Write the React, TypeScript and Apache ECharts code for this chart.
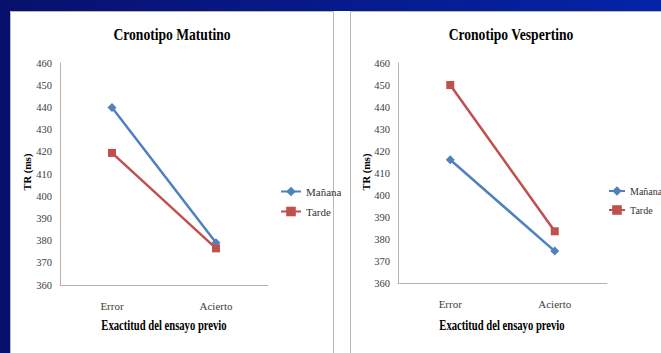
import React, { useEffect, useRef } from "react";
import * as echarts from "echarts";

const categories = ["Error", "Acierto"];
const seriesNames = ["Mañana", "Tarde"];
const matutinoManana = [440, 379];
const matutinoTarde = [419.5, 376.5];
const vespertinoManana = [416, 374.5];
const vespertinoTarde = [450, 383.5];
const panelTitles = ["Cronotipo Matutino", "Cronotipo Vespertino"];
const xAxisTitle = "Exactitud del ensayo previo";
const yAxisTitle = "TR (ms)";

const BLUE = "#4f81bd";
const RED = "#c0504d";
const SERIF = "'Liberation Serif', 'DejaVu Serif', serif";

export default function App() {
  const ref = useRef<HTMLDivElement>(null);
  useEffect(() => {
    document.body.style.margin = "0";
    const chart = echarts.init(ref.current!, null, { renderer: "svg" });
    const yAxisBase = (gridIndex: number) => ({
      type: "value" as const,
      gridIndex,
      min: 360,
      max: 460,
      interval: 10,
      axisLine: { show: true, lineStyle: { color: "#b3b3b3", width: 1 } },
      axisTick: { show: false },
      splitLine: { show: false },
      axisLabel: { fontFamily: SERIF, fontSize: 10.5, color: "#404040", margin: 8 },
    });
    const xAxisBase = (gridIndex: number) => ({
      type: "category" as const,
      gridIndex,
      data: categories,
      boundaryGap: true,
      axisLine: { show: true, lineStyle: { color: "#b3b3b3", width: 1 } },
      axisTick: { show: false },
      axisLabel: { fontFamily: SERIF, fontSize: 11, color: "#404040", margin: 15 },
    });
    const mk = (name: string, data: number[], idx: number, color: string, symbol: string, size: number) => ({
      type: "line" as const,
      name,
      data,
      xAxisIndex: idx,
      yAxisIndex: idx,
      symbol,
      symbolSize: size,
      lineStyle: { color, width: 2.5 },
      itemStyle: { color },
      emphasis: { disabled: true },
    });
    const textEl = (text: string, x: number, y: number, size: number, sx: number, rot = 0) => ({
      type: "text",
      x,
      y,
      rotation: rot,
      scaleX: sx,
      z: 10,
      style: {
        text,
        font: `bold ${size}px ${SERIF}`,
        fill: "#000",
        align: "center",
        verticalAlign: "middle",
      },
    });
    const legendBase = (left: number, fs: number, iw: number) => ({
      orient: "vertical" as const,
      left,
      top: 186,
      itemWidth: iw,
      itemHeight: 12,
      itemGap: 9,
      padding: 0,
      data: seriesNames,
      selectedMode: false,
      textStyle: { fontFamily: SERIF, fontSize: fs, color: "#333" },
    });
    chart.setOption({
      animation: false,
      backgroundColor: "#ffffff",
      graphic: [
        {
          type: "rect",
          shape: { x: 0, y: 0, width: 661, height: 11 },
          style: {
            fill: new echarts.graphic.LinearGradient(0, 0, 1, 0, [
              { offset: 0, color: "#09106e" },
              { offset: 1, color: "#0424a8" },
            ]),
          },
          z: 0,
        },
        { type: "rect", shape: { x: 0, y: 0, width: 10, height: 353 }, style: { fill: "#08106d" }, z: 0 },
        { type: "rect", shape: { x: 10.5, y: 11.5, width: 323, height: 350 }, style: { fill: "#fff", stroke: "#b8b8b8", lineWidth: 1 }, z: 0 },
        { type: "rect", shape: { x: 350.5, y: 11.5, width: 330, height: 350 }, style: { fill: "#fff", stroke: "#b8b8b8", lineWidth: 1 }, z: 0 },
        textEl(panelTitles[0], 172, 34, 17, 0.8),
        textEl(panelTitles[1], 511, 34, 17, 0.8),
        textEl(xAxisTitle, 164, 325, 14, 0.76),
        textEl(xAxisTitle, 502, 325, 14, 0.76),
        textEl(yAxisTitle, 27, 172, 11, 0.95, Math.PI / 2),
        textEl(yAxisTitle, 366, 172, 11, 0.95, Math.PI / 2),
      ],
      grid: [
        { left: 60, top: 63, width: 208, height: 222 },
        { left: 398, top: 63, width: 209, height: 220 },
      ],
      xAxis: [xAxisBase(0), xAxisBase(1)],
      yAxis: [yAxisBase(0), yAxisBase(1)],
      legend: [legendBase(280, 11, 20), legendBase(608, 10, 16)],
      series: [
        mk(seriesNames[0], matutinoManana, 0, BLUE, "diamond", 9),
        mk(seriesNames[1], matutinoTarde, 0, RED, "rect", 8),
        mk(seriesNames[0], vespertinoManana, 1, BLUE, "diamond", 9),
        mk(seriesNames[1], vespertinoTarde, 1, RED, "rect", 8),
      ],
    });
    return () => chart.dispose();
  }, []);
  return <div ref={ref} style={{ position: "fixed", left: 0, top: 0, width: 661, height: 353 }} />;
}
